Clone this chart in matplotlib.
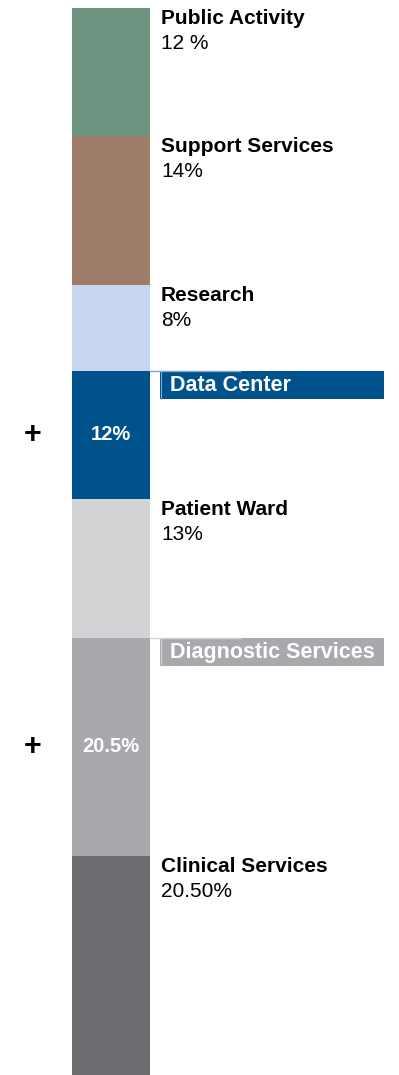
import numpy as np
import matplotlib.pyplot as plt
from matplotlib.patches import Rectangle

plt.rcParams['font.family'] = ['Liberation Sans', 'DejaVu Sans']

# cost shares, top to bottom
categories = ['Public Activity', 'Support Services', 'Research', 'Data Center',
              'Patient Ward', 'Diagnostic Services', 'Clinical Services']
shares = [12, 14, 8, 12, 13, 20.5, 20.5]
share_labels = ['12 %', '14%', '8%', '12%', '13%', '20.5%', '20.50%']
highlighted = [False, False, False, True, False, True, False]
colors = ['#6e9582', '#a07c6a', '#c9d6ef', '#00528c', '#d2d3d5', '#a8a9ad', '#6c6d71']
edge_colors = ['#6e9582', '#a07c6a', '#c9d6ef', '#7fa6c8', '#d2d3d5', '#d4d4d6', '#6c6d71']

W, H = 399, 1075
fig = plt.figure(figsize=(W / 100, H / 100), dpi=100)
ax = fig.add_axes([0, 0, 1, 1])

px = (H - 8) / 100.0  # pixels per percent
ax.set_xlim(0, W)
ax.set_ylim(100, -8 / px)
ax.axis('off')

bottoms = np.concatenate([[0], np.cumsum(shares)[:-1]])
ax.bar(111, shares, bottom=bottoms, width=78, color=colors, align='center')

for name, val, lab, hl, col, ec, b in zip(categories, shares, share_labels,
                                          highlighted, colors, edge_colors, bottoms):
    if hl:
        box_h = 28 / px
        ax.add_patch(Rectangle((160, b), 224, box_h, facecolor=col, edgecolor='none'))
        ax.plot([150, 240], [b, b], color=ec, lw=1.0)
        ax.plot([160.5, 160.5], [b, b + box_h], color=ec, lw=0.8)
        ax.text(170, b + box_h / 2 + 0.05, name, color='white', fontsize=15.5,
                fontweight='bold', va='center', ha='left')
        mid = b + val / 2
        ax.text(111, mid, lab, color='white', fontsize=14.5, fontweight='bold',
                va='center', ha='center')
        ax.text(33, mid, '+', color='black', fontsize=22, fontweight='bold',
                va='center', ha='center')
    else:
        ax.text(161, b + 1 / px, name, color='black', fontsize=15,
                fontweight='bold', va='top', ha='left')
        ax.text(161, b + 26 / px, lab, color='black', fontsize=15,
                va='top', ha='left')

fig.savefig('out.png', dpi=100)
